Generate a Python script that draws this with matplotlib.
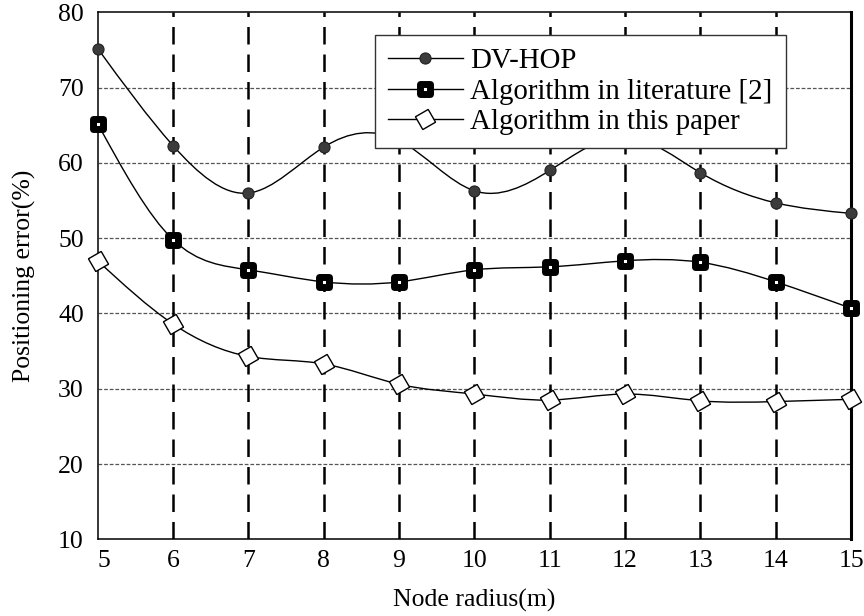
import numpy as np
import matplotlib
matplotlib.use("Agg")
import matplotlib.pyplot as plt
from matplotlib.path import Path
from matplotlib.patches import PathPatch
from matplotlib.markers import MarkerStyle
from matplotlib.lines import Line2D

plt.rcParams['font.family'] = ['Liberation Serif', 'DejaVu Serif']

radius = [5, 6, 7, 8, 9, 10, 11, 12, 13, 14, 15]
dv_hop = [75.2, 62.3, 56.0, 62.1, 63.0, 56.3, 59.0, 63.5, 58.7, 54.7, 53.3]
lit2 = [65.2, 49.8, 45.8, 44.2, 44.2, 45.8, 46.2, 47.0, 46.8, 44.2, 40.7]
this_paper = [47.0, 38.6, 34.3, 33.3, 30.6, 29.3, 28.5, 29.3, 28.4, 28.3, 28.6]
labels = ["DV-HOP", "Algorithm in literature [2]", "Algorithm in this paper"]


def spline_path(x, y):
    # natural cubic spline drawn as bezier segments
    x = np.asarray(x, float)
    y = np.asarray(y, float)
    n = len(x)
    h = np.diff(x)
    A = np.zeros((n, n))
    b = np.zeros(n)
    A[0, 0] = A[-1, -1] = 1
    for i in range(1, n - 1):
        A[i, i - 1] = h[i - 1]
        A[i, i] = 2 * (h[i - 1] + h[i])
        A[i, i + 1] = h[i]
        b[i] = 6 * ((y[i + 1] - y[i]) / h[i] - (y[i] - y[i - 1]) / h[i - 1])
    M = np.linalg.solve(A, b)
    verts = [(x[0], y[0])]
    codes = [Path.MOVETO]
    for i in range(n - 1):
        s = (y[i + 1] - y[i]) / h[i]
        d0 = s - h[i] * (2 * M[i] + M[i + 1]) / 6
        d1 = s + h[i] * (M[i] + 2 * M[i + 1]) / 6
        verts += [(x[i] + h[i] / 3, y[i] + d0 * h[i] / 3),
                  (x[i + 1] - h[i] / 3, y[i + 1] - d1 * h[i] / 3),
                  (x[i + 1], y[i + 1])]
        codes += [Path.CURVE4] * 3
    return Path(verts, codes)


fig = plt.figure(figsize=(8.64, 6.16), dpi=100)
ax = fig.add_axes([0.1131, 0.1245, 0.8719, 0.8554])

ax.set_xlim(5, 15)
ax.set_ylim(10, 80)
ax.set_xticks(radius)
ax.set_yticks(range(10, 81, 10))

# grid lines
for yv in range(20, 71, 10):
    ax.axhline(yv, color='#555555', lw=0.9, ls=(0, (3, 1.5)), zorder=1)
for xv in radius[1:-1]:
    ax.axvline(xv, color='black', lw=1.8, ls=(0, (7, 4)), zorder=1)

sq = MarkerStyle('s', joinstyle='round')
styles = [
    dict(marker='o', ms=8, mfc='#3c3c3c', mec='#222222', mew=0.8),
    dict(marker=sq, ms=7.5, mfc='white', mec='black', mew=5.0),
    dict(marker=(4, 0, -15), ms=15, mfc='white', mec='black', mew=1.0),
]

handles = []
for ys, st, lab in zip([dv_hop, lit2, this_paper], styles, labels):
    ax.add_patch(PathPatch(spline_path(radius, ys), fill=False, ec='black', lw=1.0, zorder=3))
    ax.plot(radius, ys, ls='none', zorder=4, clip_on=False, **st)
    handles.append(Line2D([], [], color='black', lw=1.0, **st))

leg = ax.legend(handles, labels, loc='upper left', bbox_to_anchor=(0.368, 0.957),
                borderaxespad=0, fontsize=20.8, frameon=True, fancybox=False,
                framealpha=1, edgecolor='#333333', handlelength=2.6,
                handletextpad=0.25, labelspacing=0.15, borderpad=0.45)
leg.get_frame().set_linewidth(1.0)
leg.set_zorder(10)

for side in ['left', 'bottom', 'top']:
    ax.spines[side].set_linewidth(1.1)
ax.spines['right'].set_linewidth(2.2)

ax.tick_params(length=0, labelsize=18.5)
ax.tick_params(axis='x', pad=8)
ax.tick_params(axis='y', pad=10)
ax.get_xticklabels()[0].set_ha('left')

ax.set_xlabel("Node radius(m)", fontsize=18.5, labelpad=12)
ax.set_ylabel("Positioning error(%)", fontsize=18.5, labelpad=16)

fig.savefig("out.png", dpi=100)
